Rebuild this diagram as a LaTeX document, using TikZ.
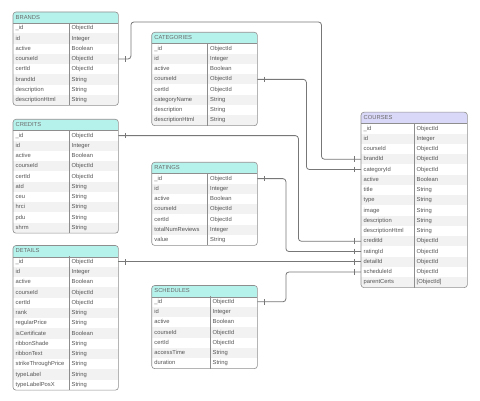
\documentclass[tikz,border=0pt]{standalone}
\usepackage{fontspec}
\setmainfont{Liberation Sans}
\usetikzlibrary{arrows}
\usetikzlibrary{shapes}

\definecolor{headcyan}{HTML}{B6F2EC}
\definecolor{headlilac}{HTML}{DAD8F8}
\definecolor{rowgray}{HTML}{F2F2F2}
\definecolor{frame}{HTML}{8E8E8E}
\definecolor{ink}{HTML}{555555}
\definecolor{title}{HTML}{6A6A6A}
\definecolor{wire}{HTML}{777777}

\begin{document}
\begin{tikzpicture}[x = 1pt, y = -1pt]
\tikzstyle{FieldStyle}=[anchor = north west,
                        inner xsep = 2.5pt, inner ysep = 0pt,
                        minimum height = 10.25pt,
                        text height = 4.2pt, text depth = 1.2pt,
                        align = left, text = ink,
                        font = \fontsize{5.8}{7}\selectfont]
\tikzstyle{TitleStyle}=[FieldStyle, minimum height = 11pt, text = title]
\tikzstyle{FrameStyle}=[draw = frame, line width = 0.6pt]
\tikzstyle{WireStyle}=[draw = wire, line width = 0.8pt, rounded corners = 3pt]
\tikzstyle{TickStyle}=[draw = wire, line width = 0.8pt]
\useasboundingbox (0,0) rectangle (480,401);

% BRANDS
\fill[headcyan, rounded corners = 3pt] (13,12) rectangle (118,26);
\node[TitleStyle, text width = 100pt] (brands) at (13,12) {BRANDS};
\foreach \f/\t [count = \i] in {\_id/ObjectId, id/Integer, active/Boolean,
    courseId/ObjectId, certId/ObjectId, brandId/String,
    description/String, descriptionHtml/String}{
  \ifodd\i \def\rowfill{white}\else \def\rowfill{rowgray}\fi
  \node[FieldStyle, text width = 51pt, fill = \rowfill] (brands-\i) at (13,{23+10.25*(\i-1)}) {\f};
  \node[FieldStyle, text width = 44pt, fill = \rowfill] (brands-\i-t) at (69,{23+10.25*(\i-1)}) {\t};
}
\draw[FrameStyle, rounded corners = 3pt] (brands.north west) rectangle (brands-8-t.south east);
\draw[FrameStyle] (brands.south west) -- (brands.south east);
\draw[FrameStyle] (brands-1-t.north west) -- (brands-8-t.south west);

% CATEGORIES
\fill[headcyan, rounded corners = 3pt] (151.7,32.3) rectangle (257,46.3);
\node[TitleStyle, text width = 100.3pt] (categories) at (151.7,32.3) {CATEGORIES};
\foreach \f/\t [count = \i] in {\_id/ObjectId, id/Integer, active/Boolean,
    courseId/ObjectId, certId/ObjectId, categoryName/String,
    description/String, descriptionHtml/String}{
  \ifodd\i \def\rowfill{white}\else \def\rowfill{rowgray}\fi
  \node[FieldStyle, text width = 50.8pt, fill = \rowfill] (categories-\i) at (151.7,{43.3+10.25*(\i-1)}) {\f};
  \node[FieldStyle, text width = 44.5pt, fill = \rowfill] (categories-\i-t) at (207.5,{43.3+10.25*(\i-1)}) {\t};
}
\draw[FrameStyle, rounded corners = 3pt] (categories.north west) rectangle (categories-8-t.south east);
\draw[FrameStyle] (categories.south west) -- (categories.south east);
\draw[FrameStyle] (categories-1-t.north west) -- (categories-8-t.south west);

% CREDITS
\fill[headcyan, rounded corners = 3pt] (13,119.3) rectangle (118,133.3);
\node[TitleStyle, text width = 100pt] (credits) at (13,119.3) {CREDITS};
\foreach \f/\t [count = \i] in {\_id/ObjectId, id/Integer, active/Boolean,
    courseId/ObjectId, certId/ObjectId, atd/String, ceu/String,
    hrci/String, pdu/String, shrm/String}{
  \ifodd\i \def\rowfill{white}\else \def\rowfill{rowgray}\fi
  \node[FieldStyle, text width = 51pt, fill = \rowfill] (credits-\i) at (13,{130.3+10.25*(\i-1)}) {\f};
  \node[FieldStyle, text width = 44pt, fill = \rowfill] (credits-\i-t) at (69,{130.3+10.25*(\i-1)}) {\t};
}
\draw[FrameStyle, rounded corners = 3pt] (credits.north west) rectangle (credits-10-t.south east);
\draw[FrameStyle] (credits.south west) -- (credits.south east);
\draw[FrameStyle] (credits-1-t.north west) -- (credits-10-t.south west);

% RATINGS
\fill[headcyan, rounded corners = 3pt] (151.7,162.3) rectangle (257,176.3);
\node[TitleStyle, text width = 100.3pt] (ratings) at (151.7,162.3) {RATINGS};
\foreach \f/\t [count = \i] in {\_id/ObjectId, id/Integer, active/Boolean,
    courseId/ObjectId, certId/ObjectId, totalNumReviews/Integer, value/String}{
  \ifodd\i \def\rowfill{white}\else \def\rowfill{rowgray}\fi
  \node[FieldStyle, text width = 50.8pt, fill = \rowfill] (ratings-\i) at (151.7,{173.3+10.25*(\i-1)}) {\f};
  \node[FieldStyle, text width = 44.5pt, fill = \rowfill] (ratings-\i-t) at (207.5,{173.3+10.25*(\i-1)}) {\t};
}
\draw[FrameStyle, rounded corners = 3pt] (ratings.north west) rectangle (ratings-7-t.south east);
\draw[FrameStyle] (ratings.south west) -- (ratings.south east);
\draw[FrameStyle] (ratings-1-t.north west) -- (ratings-7-t.south west);

% DETAILS
\fill[headcyan, rounded corners = 3pt] (13,245.5) rectangle (118,259.5);
\node[TitleStyle, text width = 100pt] (details) at (13,245.5) {DETAILS};
\foreach \f/\t [count = \i] in {\_id/ObjectId, id/Integer, active/Boolean,
    courseId/ObjectId, certId/ObjectId, rank/String, regularPrice/String,
    isCertificate/Boolean, ribbonShade/String, ribbonText/String,
    strikeThroughPrice/String, typeLabel/String, typeLabelPosX/String}{
  \ifodd\i \def\rowfill{white}\else \def\rowfill{rowgray}\fi
  \node[FieldStyle, text width = 51pt, fill = \rowfill] (details-\i) at (13,{256.5+10.25*(\i-1)}) {\f};
  \node[FieldStyle, text width = 44pt, fill = \rowfill] (details-\i-t) at (69,{256.5+10.25*(\i-1)}) {\t};
}
\draw[FrameStyle, rounded corners = 3pt] (details.north west) rectangle (details-13-t.south east);
\draw[FrameStyle] (details.south west) -- (details.south east);
\draw[FrameStyle] (details-1-t.north west) -- (details-13-t.south west);

% SCHEDULES
\fill[headcyan, rounded corners = 3pt] (151.7,285.5) rectangle (257,299.5);
\node[TitleStyle, text width = 100.3pt] (schedules) at (151.7,285.5) {SCHEDULES};
\foreach \f/\t [count = \i] in {\_id/ObjectId, id/Integer, active/Boolean,
    courseId/ObjectId, certId/ObjectId, accessTime/String, duration/String}{
  \ifodd\i \def\rowfill{white}\else \def\rowfill{rowgray}\fi
  \node[FieldStyle, text width = 53.3pt, fill = \rowfill] (schedules-\i) at (151.7,{296.5+10.25*(\i-1)}) {\f};
  \node[FieldStyle, text width = 42pt, fill = \rowfill] (schedules-\i-t) at (210,{296.5+10.25*(\i-1)}) {\t};
}
\draw[FrameStyle, rounded corners = 3pt] (schedules.north west) rectangle (schedules-7-t.south east);
\draw[FrameStyle] (schedules.south west) -- (schedules.south east);
\draw[FrameStyle] (schedules-1-t.north west) -- (schedules-7-t.south west);

% COURSES
\fill[headlilac, rounded corners = 3pt] (361,112.2) rectangle (467,126.2);
\node[TitleStyle, text width = 101pt] (courses) at (361,112.2) {COURSES};
\foreach \f/\t [count = \i] in {\_id/ObjectId, id/Integer, courseId/ObjectId,
    brandId/ObjectId, categoryId/ObjectId, active/Boolean, title/String,
    type/String, image/String, description/String, descriptionHtml/String,
    creditId/ObjectId, ratingId/ObjectId, detailId/ObjectId,
    scheduleId/ObjectId, parentCerts/{[ObjectId]}}{
  \ifodd\i \def\rowfill{white}\else \def\rowfill{rowgray}\fi
  \node[FieldStyle, text width = 48pt, fill = \rowfill] (courses-\i) at (361,{123.2+10.25*(\i-1)}) {\f};
  \node[FieldStyle, text width = 48pt, fill = \rowfill] (courses-\i-t) at (414,{123.2+10.25*(\i-1)}) {\t};
}
\draw[FrameStyle, rounded corners = 3pt] (courses.north west) rectangle (courses-16-t.south east);
\draw[FrameStyle] (courses.south west) -- (courses.south east);
\draw[FrameStyle] (courses-1-t.north west) -- (courses-16-t.south west);

% links
\coordinate (brand-top) at (321.5,22);
\draw[WireStyle] (brands-4-t.east) -- ++(12.5,0) |- (brand-top) |- (courses-4.west);
\draw[WireStyle] (categories-4-t.east) -- ++(49,0) |- (courses-5.west);
\draw[WireStyle] (credits-1-t.east) -- ++(180,0) |- (courses-12.west);
\draw[WireStyle] (ratings-1-t.east) -- ++(28.5,0) |- (courses-13.west);
\draw[WireStyle] (details-1-t.east) -- (details-1-t.east -| courses-14.west);
\draw[WireStyle] (schedules-1-t.east) -- ++(28.5,0) |- (courses-15.west);

\foreach \n in {brands-4-t, categories-4-t, credits-1-t, ratings-1-t, details-1-t, schedules-1-t}
  \draw[TickStyle] ([xshift = 7pt, yshift = 2.8pt]\n.east) -- ([xshift = 7pt, yshift = -2.8pt]\n.east);
\foreach \r in {4, 5, 12, 13, 14, 15}
  \draw[TickStyle] ([xshift = -7pt, yshift = 2.8pt]courses-\r.west) -- ([xshift = -7pt, yshift = -2.8pt]courses-\r.west);
\end{tikzpicture}
\end{document}
